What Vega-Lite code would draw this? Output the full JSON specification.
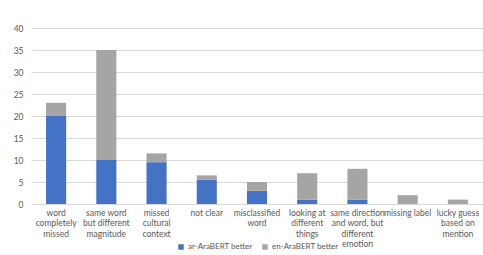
{
  "$schema": "https://vega.github.io/schema/vega-lite/v6.json",
  "width": 452,
  "height": 176,
  "autosize": {"type": "none"},
  "padding": {"left": 31, "top": 28, "right": 0, "bottom": 51},
  "background": "white",
  "config": {
    "font": "Lato",
    "view": {"stroke": null},
    "axis": {"labelFont": "Lato", "labelColor": "#595959", "labelFontSize": 8.5}
  },
  "data": {
    "values": [
      {"category": "word completely missed", "series": "ar-AraBERT better", "value": 20},
      {"category": "word completely missed", "series": "en-AraBERT better", "value": 3},
      {"category": "same word but different magnitude", "series": "ar-AraBERT better", "value": 10},
      {"category": "same word but different magnitude", "series": "en-AraBERT better", "value": 25},
      {"category": "missed cultural context", "series": "ar-AraBERT better", "value": 9.5},
      {"category": "missed cultural context", "series": "en-AraBERT better", "value": 2},
      {"category": "not clear", "series": "ar-AraBERT better", "value": 5.5},
      {"category": "not clear", "series": "en-AraBERT better", "value": 1},
      {"category": "misclassified word", "series": "ar-AraBERT better", "value": 3},
      {"category": "misclassified word", "series": "en-AraBERT better", "value": 2},
      {"category": "looking at different things", "series": "ar-AraBERT better", "value": 1},
      {"category": "looking at different things", "series": "en-AraBERT better", "value": 6},
      {"category": "same direction and word, but different emotion", "series": "ar-AraBERT better", "value": 1},
      {"category": "same direction and word, but different emotion", "series": "en-AraBERT better", "value": 7},
      {"category": "missing label", "series": "ar-AraBERT better", "value": 0},
      {"category": "missing label", "series": "en-AraBERT better", "value": 2},
      {"category": "lucky guess based on mention", "series": "ar-AraBERT better", "value": 0},
      {"category": "lucky guess based on mention", "series": "en-AraBERT better", "value": 1}
    ]
  },
  "mark": {"type": "bar"},
  "encoding": {
    "x": {
      "field": "category",
      "type": "nominal",
      "sort": null,
      "title": null,
      "scale": {"paddingInner": 0.6, "paddingOuter": 0.3},
      "axis": {
        "labelAngle": 0,
        "domain": false,
        "ticks": false,
        "labelPadding": 4,
        "labelLineHeight": 10.5,
        "labelBaseline": "top",
        "labelLimit": 0,
        "labelExpr": "datum.label == 'word completely missed' ? ['word','completely','missed'] : datum.label == 'same word but different magnitude' ? ['same word','but different','magnitude'] : datum.label == 'missed cultural context' ? ['missed','cultural','context'] : datum.label == 'misclassified word' ? ['misclassified','word'] : datum.label == 'looking at different things' ? ['looking at','different','things'] : datum.label == 'same direction and word, but different emotion' ? ['same direction','and word, but','different','emotion'] : datum.label == 'lucky guess based on mention' ? ['lucky guess','based on','mention'] : datum.label"
      }
    },
    "y": {
      "field": "value",
      "type": "quantitative",
      "aggregate": "sum",
      "stack": "zero",
      "title": null,
      "scale": {"domain": [0, 40], "nice": false},
      "axis": {
        "values": [0, 5, 10, 15, 20, 25, 30, 35, 40],
        "domain": false,
        "ticks": false,
        "labelPadding": 8,
        "gridColor": "#D9D9D9",
        "gridWidth": 1
      }
    },
    "color": {
      "field": "series",
      "type": "nominal",
      "scale": {"domain": ["ar-AraBERT better", "en-AraBERT better"], "range": ["#4472C4", "#A5A5A5"]},
      "legend": {
        "title": null,
        "orient": "none",
        "direction": "horizontal",
        "legendX": 146,
        "legendY": 215,
        "symbolType": "square",
        "symbolSize": 30,
        "symbolStrokeWidth": 0,
        "labelFontSize": 8,
        "labelColor": "#595959",
        "labelFont": "Lato",
        "columnPadding": 8,
        "labelOffset": 3
      }
    },
    "order": {"field": "series", "sort": "ascending"}
  }
}
